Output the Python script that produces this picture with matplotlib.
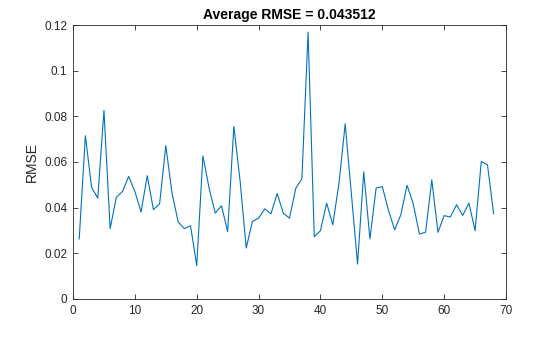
import matplotlib
matplotlib.use("Agg")
import matplotlib.pyplot as plt
import numpy as np

rmse = [0.0263, 0.0715, 0.0489, 0.0442, 0.0826, 0.0308, 0.0445, 0.0471, 0.0537, 0.0471,
        0.0381, 0.0540, 0.0391, 0.0417, 0.0672, 0.0464, 0.0337, 0.0308, 0.0321, 0.0146,
        0.0627, 0.0485, 0.0376, 0.0408, 0.0295, 0.0756, 0.0520, 0.0223, 0.0340, 0.0354,
        0.0395, 0.0373, 0.0462, 0.0376, 0.0354, 0.0484, 0.0527, 0.1169, 0.0273, 0.0299,
        0.0420, 0.0325, 0.0508, 0.0767, 0.0460, 0.0153, 0.0557, 0.0263, 0.0486, 0.0492,
        0.0388, 0.0303, 0.0369, 0.0498, 0.0417, 0.0284, 0.0293, 0.0522, 0.0292, 0.0365,
        0.0359, 0.0413, 0.0366, 0.0420, 0.0299, 0.0602, 0.0588, 0.0373]
xticks = [0, 10, 20, 30, 40, 50, 60, 70]
yticks = [0, 0.02, 0.04, 0.06, 0.08, 0.1, 0.12]
ytick_labels = ["0", "0.02", "0.04", "0.06", "0.08", "0.1", "0.12"]
title_text = "Average RMSE = 0.043512"

plt.rcParams['font.family'] = ['Liberation Sans', 'DejaVu Sans']
fig = plt.figure(figsize=(5.6, 3.37), dpi=100)
ax = fig.add_axes([0.1304, 0.1128, 0.7732, 0.8130])

idx = np.arange(1, len(rmse) + 1)
ax.plot(idx, rmse, color='#0072BD', linewidth=0.8)

ax.set_xlim(0, 70)
ax.set_ylim(0, 0.12)
ax.set_xticks(xticks)
ax.set_yticks(yticks)
ax.set_yticklabels(ytick_labels)

axcol = '#262626'
for s in ax.spines.values():
    s.set_color(axcol)
    s.set_linewidth(0.6)
ax.tick_params(direction='in', top=True, right=True, length=3.5, width=0.6,
               color=axcol, labelcolor=axcol, labelsize=8.5, pad=4)
ax.set_ylabel('RMSE', fontsize=10, color=axcol, labelpad=4)
ax.set_title(title_text, fontsize=10, fontweight='bold', color='black', pad=4)

fig.savefig('out.png', dpi=100)
